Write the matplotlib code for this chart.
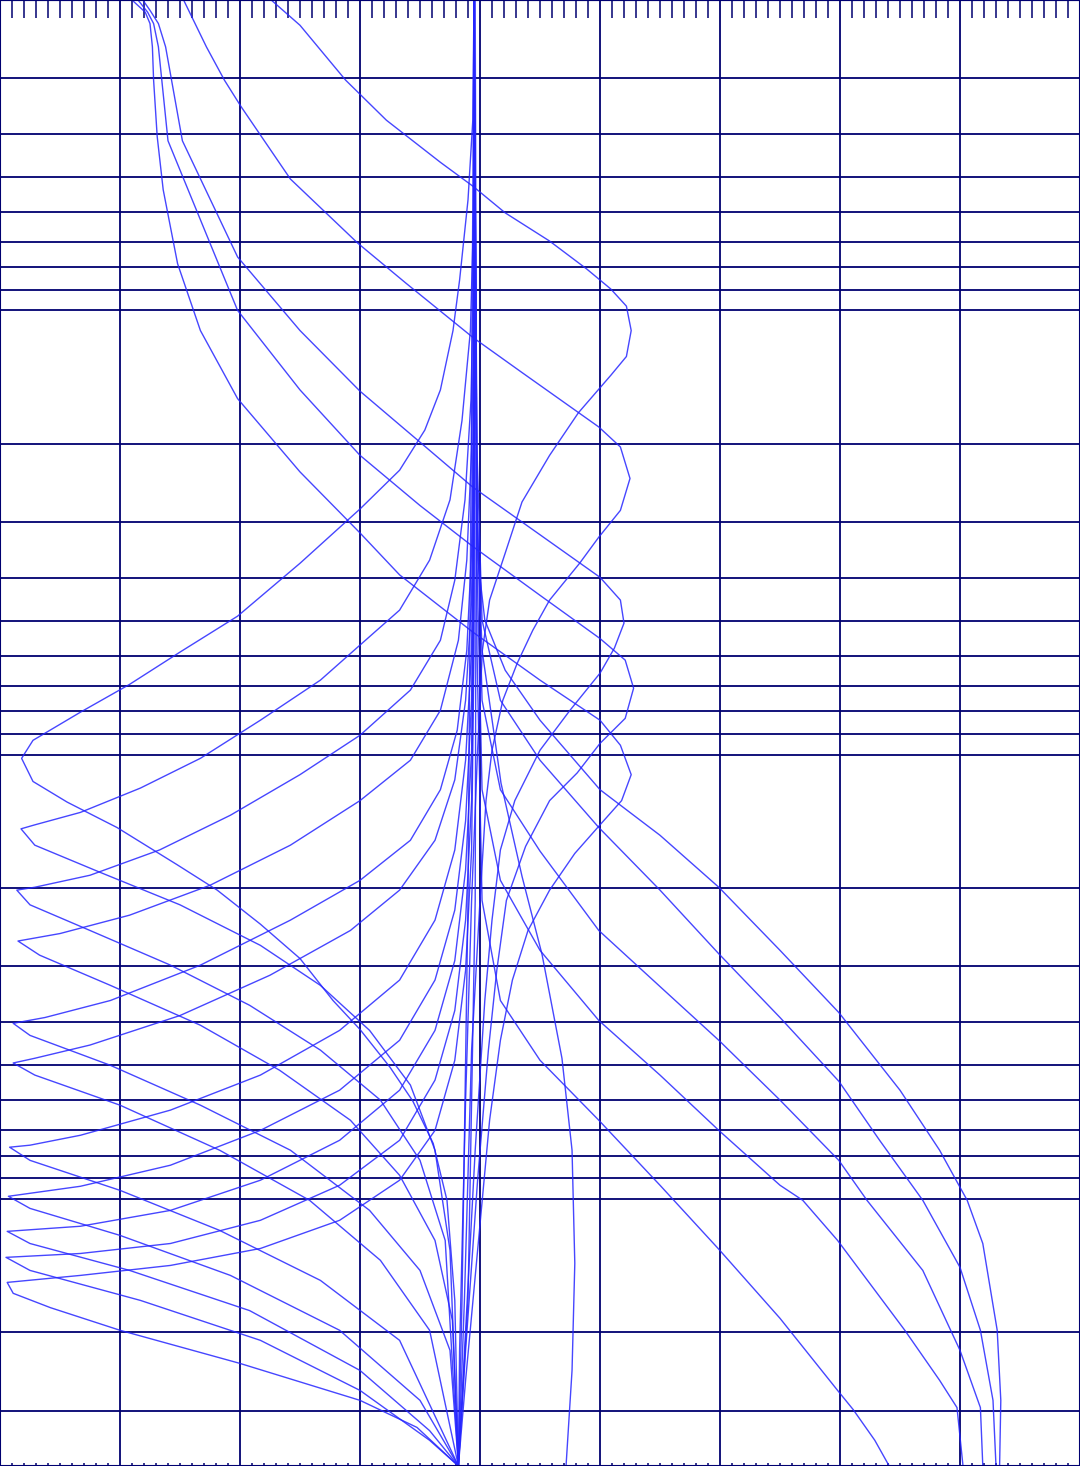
import matplotlib
matplotlib.use("Agg")
import matplotlib.pyplot as plt
from matplotlib.ticker import MultipleLocator, FixedLocator, NullFormatter

# curves: x value, y value (log axis, 2 at top, 4000 at bottom)
a1_x = [-1.74, -1.5, -1.12, -0.78, -0.33, -0.06, 0.21, 0.58, 0.89, 1.09, 1.22, 1.26, 1.22, 1.09, 0.82, 0.58, 0.35, 0.21, 0.08, 0.02, -0.02, -0.07, -0.12, -0.17, -0.18]
a1_y = [2, 2.28, 3.03, 3.73, 4.64, 5.25, 6.03, 6.98, 8.07, 8.95, 9.78, 11.1, 12.7, 14.0, 17.0, 21.2, 27.0, 35.2, 44.9, 58.2, 97.8, 213, 600, 2196, 4000]

a2_x = [-2.47, -2.28, -2.13, -1.99, -1.58, -1.02, -0.62, -0.06, 0.35, 0.99, 1.17, 1.25, 1.17, 0.99, 0.83, 0.58, 0.44, 0.31, 0.19, 0.1, 0.05, 0.0, -0.07, -0.13, -0.18]
a2_y = [2, 2.55, 3.03, 3.48, 5.06, 7.05, 8.67, 11.5, 13.8, 18.3, 20.3, 23.9, 28.2, 32.4, 37.1, 44.9, 52.5, 62.3, 75.5, 97.8, 127, 213, 463, 1695, 4000]

a3_x = [-2.81, -2.75, -2.68, -2.62, -2.48, -2.02, -1.5, -1.0, -0.5, -0.06, 0.5, 1.0, 1.17, 1.2, 1.12, 1.0, 0.75, 0.5, 0.29, 0.17, 0.1, 0.04, -0.04, -0.12, -0.18]
a3_y = [2, 2.11, 2.26, 2.55, 4.15, 7.58, 11.1, 15.2, 19.8, 25.0, 32.0, 39.9, 44.9, 50.6, 57.6, 65.6, 79.5, 97.8, 127, 164, 236, 358, 778, 1979, 4000]

a4_x = [-2.85, -2.77, -2.72, -2.68, -2.6, -2.02, -1.5, -1.0, -0.5, -0.06, 0.5, 1.0, 1.21, 1.28, 1.21, 1.0, 0.81, 0.58, 0.38, 0.22, 0.14, 0.07, -0.02, -0.12, -0.18]
a4_y = [2, 2.13, 2.26, 2.55, 4.15, 10.0, 15.1, 21.2, 27.5, 34.0, 43.8, 54.8, 61.3, 70.9, 82.9, 94.4, 110, 127, 161, 213, 306, 463, 909, 2196, 4000]

a5_x = [-2.9, -2.79, -2.75, -2.73, -2.72, -2.69, -2.64, -2.52, -2.33, -2.02, -1.5, -1.0, -0.67, -0.06, 0.5, 1.0, 1.17, 1.26, 1.18, 1.0, 0.79, 0.58, 0.4, 0.27, 0.17, 0.08, -0.02, -0.12, -0.18]
a5_y = [2, 2.13, 2.26, 2.55, 3.03, 4.06, 5.35, 7.85, 11.1, 15.8, 23.1, 31.7, 39.4, 53.0, 68.0, 83.7, 95.3, 111, 127, 144, 167, 202, 249, 322, 440, 666, 1308, 2565, 4000]

l1_x = [-0.05, -0.06, -0.1, -0.17, -0.225, -0.33, -0.46, -0.67, -1.0, -1.5, -2.02, -2.5, -2.92, -3.33, -3.725, -3.82, -3.725, -3.44, -3.025, -2.525, -2.19, -1.83, -1.5, -1.225, -1.0, -0.75, -0.56, -0.39, -0.275, -0.21, -0.18]
l1_y = [2, 3.73, 5.64, 8.54, 11.1, 15.1, 18.6, 22.9, 28.0, 37.1, 48.8, 58.8, 69.5, 80.3, 92.9, 102, 115, 128, 146, 177, 202, 241, 288, 358, 416, 506, 603, 751, 1009, 1695, 4000]

l2_x = [-0.05, -0.05, -0.08, -0.15, -0.25, -0.42, -0.67, -1.0, -1.33, -1.83, -2.33, -2.83, -3.33, -3.71, -3.825, -3.71, -3.17, -2.5, -1.83, -1.33, -0.92, -0.58, -0.375, -0.25, -0.18]
l2_y = [2, 5.64, 11.1, 17.7, 26.7, 36.5, 47.3, 56.7, 68.0, 83.7, 102, 119, 135, 144, 147, 160, 184, 218, 269, 331, 418, 555, 778, 1308, 4000]

l3_x = [-0.05, -0.05, -0.075, -0.125, -0.21, -0.33, -0.58, -1.0, -1.5, -2.08, -2.67, -3.25, -3.71, -3.86, -3.75, -3.25, -2.58, -1.92, -1.33, -0.83, -0.5, -0.29, -0.18]
l3_y = [2, 7.31, 15.9, 26.7, 40.5, 55.3, 71.6, 90.5, 111, 137, 164, 187, 199, 202, 218, 249, 298, 367, 463, 600, 820, 1242, 4000]

l4_x = [-0.05, -0.05, -0.07, -0.11, -0.18, -0.33, -0.58, -1.0, -1.58, -2.25, -2.92, -3.5, -3.85, -3.67, -3.08, -2.33, -1.67, -1.08, -0.67, -0.375, -0.23, -0.18]
l4_y = [2, 9.48, 20.6, 36.5, 55.3, 79.5, 103, 127, 160, 197, 230, 253, 263, 283, 331, 407, 514, 666, 886, 1242, 1880, 4000]

l5_x = [-0.05, -0.05, -0.07, -0.11, -0.19, -0.33, -0.58, -1.0, -1.58, -2.33, -3.08, -3.625, -3.89, -3.75, -3.08, -2.33, -1.58, -0.92, -0.5, -0.25, -0.18]
l5_y = [2, 12.3, 34.7, 58.2, 88.2, 120, 156, 192, 236, 298, 358, 391, 403, 429, 501, 616, 778, 1063, 1451, 2196, 4000]

l6_x = [-0.05, -0.05, -0.07, -0.12, -0.21, -0.375, -0.67, -1.08, -1.75, -2.5, -3.25, -3.71, -3.89, -3.71, -3.0, -2.17, -1.42, -0.83, -0.42, -0.18]
l6_y = [2, 15.9, 44.9, 75.5, 114, 156, 202, 249, 314, 387, 451, 483, 495, 527, 616, 778, 1009, 1377, 1979, 4000]

l7_x = [-0.05, -0.05, -0.07, -0.12, -0.21, -0.375, -0.67, -1.17, -1.83, -2.58, -3.33, -3.75, -3.92, -3.75, -3.0, -2.17, -1.33, -0.67, -0.18]
l7_y = [2, 20.6, 58.2, 103, 164, 236, 322, 418, 527, 632, 720, 758, 766, 820, 958, 1179, 1528, 2085, 4000]

l8_x = [-0.05, -0.05, -0.07, -0.12, -0.21, -0.375, -0.67, -1.17, -1.83, -2.58, -3.33, -3.93, -3.75, -3.0, -2.08, -1.17, -0.5, -0.18]
l8_y = [2, 26.7, 75.5, 141, 224, 322, 440, 570, 702, 841, 938, 988, 1052, 1210, 1489, 1979, 2846, 4000]

l9_x = [-0.05, -0.05, -0.07, -0.12, -0.21, -0.375, -0.67, -1.17, -1.83, -2.58, -3.33, -3.94, -3.75, -2.92, -1.92, -1.0, -0.42, -0.18]
l9_y = [2, 34.7, 97.8, 182, 291, 418, 570, 739, 909, 1063, 1154, 1185, 1262, 1451, 1787, 2437, 3330, 4000]

l10_x = [-0.05, -0.05, -0.07, -0.12, -0.21, -0.375, -0.67, -1.17, -1.83, -2.58, -3.33, -3.95, -3.75, -2.83, -1.83, -1.0, -0.42, -0.18]
l10_y = [2, 44.9, 127, 236, 377, 541, 739, 933, 1119, 1262, 1329, 1356, 1451, 1695, 2085, 2703, 3501, 4000]

l11_x = [-0.05, -0.05, -0.07, -0.12, -0.21, -0.375, -0.67, -1.17, -1.83, -2.58, -3.33, -3.94, -3.89, -3.58, -3.0, -2.0, -1.0, -0.525, -0.18]
l11_y = [2, 58.2, 164, 306, 488, 702, 909, 1119, 1295, 1414, 1489, 1544, 1634, 1760, 1979, 2350, 2846, 3275, 4000]

r1_x = [-0.05, -0.03, -0.017, 0.04, 0.21, 0.5, 1.0, 1.5, 1.99, 2.5, 2.99, 3.5, 3.83, 4.06, 4.19, 4.31, 4.34, 4.33]
r1_y = [2, 15.9, 36.5, 49.8, 64.6, 83.7, 120, 152, 199, 276, 381, 570, 778, 1009, 1262, 1979, 2846, 4000]

r2_x = [-0.05, -0.025, 0.017, 0.17, 0.5, 0.99, 1.5, 1.99, 2.5, 2.99, 3.33, 3.69, 4.0, 4.17, 4.275, 4.3]
r2_y = [2, 20.6, 49.8, 75.5, 103, 146, 202, 281, 391, 544, 739, 1009, 1428, 1979, 2846, 4000]

r3_x = [-0.05, -0.025, 0.017, 0.17, 0.5, 0.99, 1.5, 1.99, 2.5, 2.99, 3.225, 3.69, 4.0, 4.17, 4.19]
r3_y = [2, 26.7, 75.5, 120, 165, 249, 333, 440, 600, 820, 1009, 1451, 2196, 2955, 4000]

r4_x = [-0.05, -0.025, 0.017, 0.17, 0.5, 0.99, 1.5, 1.99, 2.5, 2.69, 2.98, 3.54, 3.83, 3.975, 4.025]
r4_y = [2, 36.5, 120, 192, 276, 397, 527, 702, 933, 1009, 1242, 1979, 2565, 2955, 4000]

r5_x = [-0.05, -0.025, 0.017, 0.17, 0.5, 0.99, 1.5, 1.99, 2.5, 2.98, 3.11, 3.29, 3.41]
r5_y = [2, 58.2, 213, 358, 488, 666, 933, 1300, 1860, 2703, 2986, 3501, 4000]

m_x = [-0.05, -0.03, 0.017, 0.125, 0.175, 0.35, 0.517, 0.683, 0.767, 0.79, 0.767, 0.717]
m_y = [2, 26.7, 58.2, 92.9, 116, 188, 282, 483, 778, 1399, 2437, 4000]

v1_x = [-0.05, -0.07, -0.1, -0.15, -0.18]
v1_y = [2, 15.9, 213, 1695, 4000]
v2_x = [-0.04, -0.03, -0.04, -0.1, -0.18]
v2_y = [2, 15.9, 213, 1695, 4000]

curves = [
    (a1_x, a1_y), (a2_x, a2_y), (a3_x, a3_y), (a4_x, a4_y), (a5_x, a5_y),
    (l1_x, l1_y), (l2_x, l2_y), (l3_x, l3_y), (l4_x, l4_y), (l5_x, l5_y),
    (l6_x, l6_y), (l7_x, l7_y), (l8_x, l8_y), (l9_x, l9_y), (l10_x, l10_y),
    (l11_x, l11_y),
    (r1_x, r1_y), (r2_x, r2_y), (r3_x, r3_y), (r4_x, r4_y), (r5_x, r5_y),
    (m_x, m_y), (v1_x, v1_y), (v2_x, v2_y),
]

# grid positions
x_grid = list(range(-4, 6))
y_grid = [3, 4, 5, 6, 7, 8, 9, 10, 20, 30, 40, 50, 60, 70, 80, 90,
          100, 200, 300, 400, 500, 600, 700, 800, 900, 1000, 2000, 3000]

grid_col = "#000070"
line_col = "#2626ff"

fig = plt.figure(figsize=(10.8, 14.66), dpi=100)
ax = fig.add_axes([0, 0, 1, 1])
ax.set_yscale("log")
ax.set_xlim(-4, 5)
ax.set_ylim(4000, 2)

ax.xaxis.set_major_locator(FixedLocator(x_grid))
ax.xaxis.set_minor_locator(MultipleLocator(0.1))
ax.yaxis.set_major_locator(FixedLocator(y_grid))
ax.yaxis.set_minor_locator(FixedLocator([]))
for axis in (ax.xaxis, ax.yaxis):
    axis.set_major_formatter(NullFormatter())
    axis.set_minor_formatter(NullFormatter())

ax.grid(True, which="major", color=grid_col, linewidth=1.3)
ax.set_axisbelow(True)

# bottom: tiny marks only, top: long inward ticks
ax.tick_params(axis="x", which="major", length=0)
ax.tick_params(axis="x", which="minor", top=False, bottom=True, direction="in",
               length=2, width=1.1, color=grid_col)
ax.tick_params(axis="y", which="both", length=0)

top = ax.secondary_xaxis("top")
top.xaxis.set_major_locator(FixedLocator(x_grid))
top.xaxis.set_minor_locator(MultipleLocator(0.1))
top.xaxis.set_major_formatter(NullFormatter())
top.xaxis.set_minor_formatter(NullFormatter())
top.tick_params(which="major", length=0)
top.tick_params(which="minor", direction="in", length=13, width=1.1, color=grid_col)
top.spines["top"].set_color(grid_col)
top.spines["top"].set_linewidth(1.5)

for sp in ax.spines.values():
    sp.set_color(grid_col)
    sp.set_linewidth(1.5)

for xs, ys in curves:
    ax.plot(xs, ys, color=line_col, linewidth=1.0, alpha=0.85)

fig.savefig("out.png", dpi=100)
